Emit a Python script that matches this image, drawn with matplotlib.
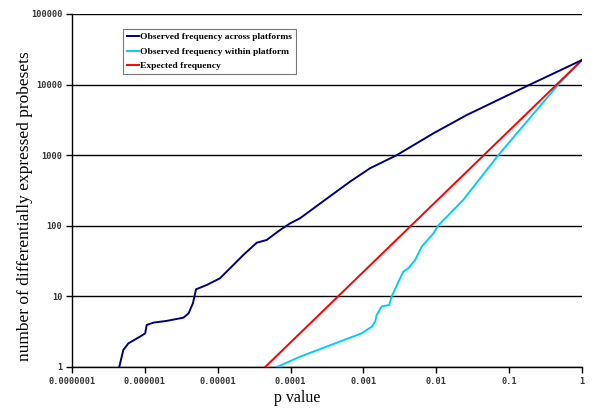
"""
plot.py - observed vs expected frequency of differentially expressed probesets.
"""

import matplotlib
matplotlib.use("Agg")
import matplotlib.pyplot as plt
import matplotlib.ticker as mticker
from matplotlib.font_manager import FontProperties

# ── Data ────────────────────────────────────────────────────────────────────

across_p = [4.45e-7, 5.06e-7, 5.93e-7, 8.57e-7, 1.01e-6, 1.06e-6, 1.31e-6,
            2.0e-6, 3.39e-6, 3.98e-6, 4.57e-6, 5.04e-6, 7.05e-6, 1.07e-5,
            1.64e-5, 2.24e-5, 3.43e-5, 4.70e-5, 7.16e-5, 9.82e-5, 1.35e-4,
            2.96e-4, 6.55e-4, 1.23e-3, 2.86e-3, 9.12e-3, 2.61e-2, 0.193, 1.0]
across_n = [1.0, 1.74, 2.16, 2.69, 3.0, 3.94, 4.25, 4.5, 5.0, 5.75, 8.0,
            12.6, 14.5, 18.0, 27.9, 38.5, 57.6, 63.0, 87.0, 108.0, 128.0,
            232.0, 422.0, 653.0, 1000.0, 2040.0, 3700.0, 10000.0, 22300.0]

within_p = [6.5e-5, 1.35e-4, 9.46e-4, 1.30e-3, 1.45e-3, 1.52e-3, 1.78e-3,
            2.26e-3, 2.44e-3, 3.02e-3, 3.52e-3, 4.13e-3, 5.13e-3, 6.31e-3,
            7.76e-3, 9.12e-3, 1.07e-2, 1.55e-2, 2.34e-2, 7.10e-2, 0.472, 1.0]
within_n = [1.0, 1.4, 3.0, 3.72, 4.4, 5.45, 7.2, 7.55, 10.0, 16.0, 22.4,
            25.0, 32.8, 50.7, 64.6, 78.0, 101.6, 150.0, 232.0, 1000.0,
            10000.0, 22300.0]

expected_p = [1 / 22300, 1.0]
expected_n = [1.0, 22300.0]

x_ticks = [1e-7, 1e-6, 1e-5, 1e-4, 1e-3, 1e-2, 1e-1, 1]
x_labels = ["0.0000001", "0.000001", "0.00001", "0.0001", "0.001", "0.01",
            "0.1", "1"]
y_ticks = [1, 10, 100, 1000, 10000, 100000]
y_labels = ["1", "10", "100", "1000", "10000", "100000"]

# ── Plot ─────────────────────────────────────────────────────────────────────

fig = plt.figure(figsize=(6.0, 4.17), dpi=100)
ax = fig.add_axes([72 / 600, 1 - 367 / 417, 510 / 600, 353 / 417])

ax.plot(across_p, across_n, color="#000080", lw=1.4,
        label="Observed frequency across platforms", zorder=4)
ax.plot(within_p, within_n, color="#00CCFF", lw=1.4,
        label="Observed frequency within platform", zorder=3)
ax.plot(expected_p, expected_n, color="#FF0000", lw=1.4,
        label="Expected frequency", zorder=3)

ax.set_xscale("log")
ax.set_yscale("log")
ax.set_xlim(1e-7, 1)
ax.set_ylim(1, 100000)

ax.xaxis.set_major_locator(mticker.FixedLocator(x_ticks))
ax.xaxis.set_major_formatter(mticker.FixedFormatter(x_labels))
ax.xaxis.set_minor_locator(mticker.NullLocator())
ax.yaxis.set_major_locator(mticker.FixedLocator(y_ticks))
ax.yaxis.set_major_formatter(mticker.FixedFormatter(y_labels))
ax.yaxis.set_minor_locator(mticker.NullLocator())

tick_font = FontProperties(family="DejaVu Sans Mono", weight="bold", size=6.2)
for lab in ax.get_xticklabels() + ax.get_yticklabels():
    lab.set_fontproperties(tick_font)
    lab.set_color("#333333")
ax.tick_params(direction="out", length=4, width=1, color="black", pad=3)

ax.grid(axis="y", color="black", lw=1, zorder=1)
for side in ("top", "right"):
    ax.spines[side].set_visible(False)
for side in ("left", "bottom"):
    ax.spines[side].set_color("black")
    ax.spines[side].set_linewidth(1)

ax.set_xlabel("p value", family="Liberation Serif", size=11.5, va="center")
ax.xaxis.set_label_coords(225 / 510, -31 / 353)
ax.set_ylabel("number of differentially expressed probesets",
              family="Liberation Serif", size=12.5, va="center")
ax.yaxis.set_label_coords(-47 / 510, 161 / 353)

leg = ax.legend(loc="upper left", bbox_to_anchor=(51 / 510, 1 - 15 / 353),
                borderaxespad=0,
                prop=dict(family="Liberation Serif", weight="bold", size=6.8),
                frameon=True, fancybox=False, handlelength=1.3,
                handletextpad=0.15, borderpad=0.4, labelspacing=0.62)
leg.get_frame().set_edgecolor("#555555")
leg.get_frame().set_linewidth(0.8)

fig.savefig("out.png", dpi=100)
